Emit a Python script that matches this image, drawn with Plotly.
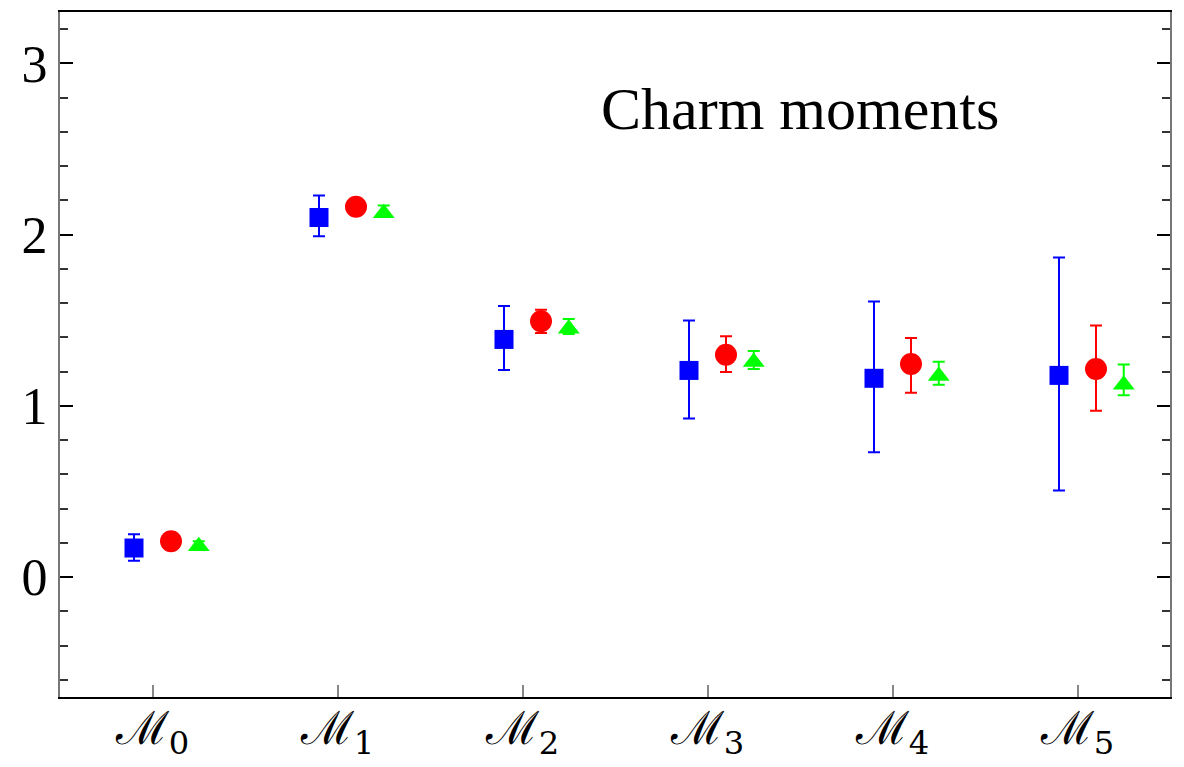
import plotly.graph_objects as go

moments = [0, 1, 2, 3, 4, 5]
subscripts = ["0", "1", "2", "3", "4", "5"]
tick_labels = ["ℳ<sub>%s</sub>" % s for s in subscripts]

blue_val = [0.17, 2.10, 1.388, 1.207, 1.161, 1.178]
blue_up = [0.08, 0.128, 0.195, 0.291, 0.449, 0.688]
blue_dn = [0.075, 0.11, 0.179, 0.281, 0.432, 0.672]

red_val = [0.209, 2.163, 1.494, 1.298, 1.244, 1.215]
red_up = [0.03, 0.03, 0.068, 0.109, 0.153, 0.254]
red_dn = [0.03, 0.03, 0.068, 0.10, 0.168, 0.244]

green_val = [0.18, 2.125, 1.45, 1.256, 1.174, 1.123]
green_up = [0.03, 0.045, 0.058, 0.064, 0.084, 0.119]
green_dn = [0.02, 0.02, 0.03, 0.04, 0.05, 0.061]

offsets = [-0.1, 0.1, 0.25]

fig = go.Figure()

series = [
    (blue_val, blue_up, blue_dn, "#0000FF", "square", 19),
    (red_val, red_up, red_dn, "#FF0000", "circle", 22),
    (green_val, green_up, green_dn, "#00FF00", "triangle-up", 19),
]
for (vals, up, dn, col, sym, sz), off in zip(series, offsets):
    fig.add_trace(go.Scatter(
        x=[m + off for m in moments], y=vals, mode="markers",
        marker=dict(symbol=sym, size=sz, color=col, line=dict(width=0)),
        error_y=dict(type="data", symmetric=False, array=up, arrayminus=dn,
                     color=col, thickness=2, width=6),
        showlegend=False,
    ))

fig.add_annotation(text="Charm moments", xref="paper", yref="paper",
                   x=0.667, y=0.858, xanchor="center", yanchor="middle",
                   showarrow=False,
                   font=dict(family="Liberation Serif", size=60, color="black"))

fig.update_layout(
    width=1184, height=767,
    margin=dict(l=60, r=14, t=12, b=70),
    plot_bgcolor="white", paper_bgcolor="white",
    font=dict(family="Liberation Serif", color="black"),
)
fig.update_xaxes(
    range=[-0.5, 5.5], tickmode="array", tickvals=moments, ticktext=tick_labels,
    ticks="inside", ticklen=12, tickwidth=2, tickcolor="#888888",
    tickfont=dict(family="DejaVu Serif", size=46),
    ticklabelstandoff=-10,
    showline=True, linecolor="black", linewidth=2, mirror=True,
    showgrid=False, zeroline=False, automargin=False,
)
fig.update_yaxes(
    range=[-0.7, 3.3], tickmode="array", tickvals=[0, 1, 2, 3],
    ticks="inside", ticklen=13, tickwidth=1.5, tickcolor="black",
    tickfont=dict(family="Liberation Serif", size=52),
    minor=dict(ticks="inside", ticklen=8, tickwidth=1.5, tickcolor="#333333", dtick=0.2, tick0=0, showgrid=False),
    showline=True, linecolor="#777777", linewidth=2, mirror="ticks",
    showgrid=False, zeroline=False, automargin=False,
)

fig.write_html("out.html")
